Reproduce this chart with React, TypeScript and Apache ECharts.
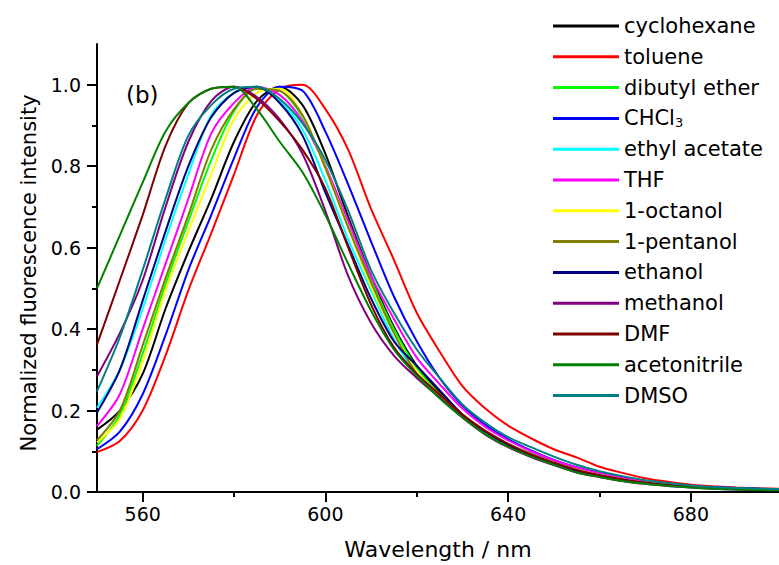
import React, { useEffect, useRef } from "react";
import * as echarts from "echarts";

const wavelengths = [
  550, 555, 560, 565, 570, 575, 580, 585, 590, 595, 600, 605, 610, 615, 620,
  625, 630, 635, 640, 645, 650, 655, 660, 665, 670, 675, 680, 685, 690, 695, 700,
];

const solventNames = [
  "cyclohexane", "toluene", "dibutyl ether", "CHCl3", "ethyl acetate", "THF",
  "1-octanol", "1-pentanol", "ethanol", "methanol", "DMF", "acetonitrile", "DMSO",
];

const solventColors = [
  "#000000", "#ff0000", "#00ff00", "#0000ff", "#00ffff", "#ff00ff",
  "#ffff00", "#808000", "#000080", "#800080", "#800000", "#008000", "#008080",
];

const cyclohexane = [0.153, 0.2, 0.29, 0.45, 0.59, 0.72, 0.86, 0.96, 0.995, 0.95, 0.83, 0.675, 0.53, 0.405, 0.31,
  0.245, 0.19, 0.15, 0.118, 0.094, 0.073, 0.056, 0.043, 0.032, 0.024, 0.018, 0.014, 0.011, 0.009, 0.007, 0.006];
const toluene = [0.098, 0.125, 0.2, 0.335, 0.495, 0.635, 0.78, 0.925, 0.99, 1.0, 0.94, 0.84, 0.695, 0.57, 0.44,
  0.345, 0.26, 0.205, 0.163, 0.132, 0.105, 0.085, 0.062, 0.047, 0.034, 0.025, 0.018, 0.014, 0.011, 0.009, 0.008];
const dibutylEther = [0.113, 0.19, 0.34, 0.51, 0.665, 0.815, 0.935, 0.99, 0.985, 0.92, 0.8, 0.65, 0.52, 0.4, 0.305,
  0.24, 0.188, 0.148, 0.117, 0.093, 0.072, 0.055, 0.042, 0.031, 0.023, 0.017, 0.013, 0.01, 0.008, 0.007, 0.006];
const chcl3 = [0.105, 0.148, 0.24, 0.385, 0.545, 0.68, 0.82, 0.945, 0.995, 0.985, 0.885, 0.755, 0.615, 0.48, 0.37,
  0.28, 0.212, 0.165, 0.13, 0.102, 0.079, 0.061, 0.047, 0.036, 0.027, 0.02, 0.015, 0.012, 0.01, 0.008, 0.007];
const ethylAcetate = [0.207, 0.3, 0.45, 0.62, 0.78, 0.925, 0.98, 0.995, 0.96, 0.89, 0.765, 0.62, 0.495, 0.375, 0.29,
  0.235, 0.185, 0.148, 0.117, 0.093, 0.072, 0.055, 0.042, 0.031, 0.023, 0.017, 0.013, 0.01, 0.008, 0.007, 0.006];
const thf = [0.162, 0.24, 0.4, 0.56, 0.72, 0.88, 0.955, 0.995, 0.975, 0.91, 0.8, 0.665, 0.53, 0.425, 0.33,
  0.265, 0.205, 0.16, 0.127, 0.1, 0.078, 0.06, 0.046, 0.035, 0.026, 0.02, 0.015, 0.011, 0.009, 0.007, 0.006];
const octanol = [0.122, 0.18, 0.32, 0.495, 0.64, 0.78, 0.915, 0.98, 0.99, 0.925, 0.795, 0.65, 0.505, 0.39, 0.295,
  0.24, 0.19, 0.15, 0.118, 0.093, 0.072, 0.055, 0.042, 0.031, 0.023, 0.017, 0.013, 0.01, 0.008, 0.007, 0.006];
const pentanol = [0.127, 0.2, 0.36, 0.525, 0.68, 0.84, 0.94, 0.99, 0.985, 0.925, 0.795, 0.65, 0.515, 0.39, 0.29,
  0.235, 0.185, 0.148, 0.117, 0.092, 0.071, 0.054, 0.041, 0.031, 0.023, 0.017, 0.013, 0.01, 0.008, 0.007, 0.006];
const ethanol = [0.195, 0.3, 0.47, 0.64, 0.8, 0.92, 0.98, 0.995, 0.955, 0.875, 0.735, 0.605, 0.475, 0.37, 0.31,
  0.25, 0.19, 0.148, 0.115, 0.09, 0.07, 0.052, 0.04, 0.03, 0.022, 0.016, 0.012, 0.009, 0.007, 0.006, 0.005];
const methanol = [0.284, 0.39, 0.52, 0.7, 0.86, 0.96, 0.995, 0.97, 0.915, 0.83, 0.69, 0.53, 0.415, 0.335, 0.28,
  0.232, 0.183, 0.141, 0.11, 0.086, 0.066, 0.048, 0.037, 0.027, 0.02, 0.015, 0.011, 0.008, 0.006, 0.005, 0.004];
const dmf = [0.362, 0.52, 0.68, 0.85, 0.955, 0.99, 0.995, 0.965, 0.91, 0.84, 0.745, 0.6, 0.46, 0.355, 0.29,
  0.24, 0.19, 0.15, 0.118, 0.092, 0.072, 0.054, 0.041, 0.031, 0.023, 0.017, 0.013, 0.01, 0.008, 0.006, 0.005];
const acetonitrile = [0.5, 0.63, 0.76, 0.885, 0.955, 0.99, 0.995, 0.94, 0.86, 0.785, 0.68, 0.56, 0.445, 0.35, 0.285,
  0.23, 0.183, 0.142, 0.111, 0.087, 0.067, 0.048, 0.037, 0.027, 0.02, 0.015, 0.011, 0.008, 0.006, 0.005, 0.004];
const dmso = [0.247, 0.38, 0.545, 0.72, 0.875, 0.95, 0.99, 0.995, 0.965, 0.905, 0.815, 0.69, 0.545, 0.44, 0.35,
  0.28, 0.215, 0.17, 0.135, 0.11, 0.087, 0.067, 0.051, 0.039, 0.029, 0.022, 0.016, 0.012, 0.01, 0.008, 0.007];

const seriesValues = [
  cyclohexane, toluene, dibutylEther, chcl3, ethylAcetate, thf,
  octanol, pentanol, ethanol, methanol, dmf, acetonitrile, dmso,
];

const xMajorTicks = [560, 600, 640, 680];
const xMinorTicks = [580, 620, 660];
const yMajorTicks = [0, 0.2, 0.4, 0.6, 0.8, 1.0];
const yMinorTicks = [0.1, 0.3, 0.5, 0.7, 0.9];

const FONT = "DejaVu Sans";

export default function App() {
  const ref = useRef<HTMLDivElement>(null);

  useEffect(() => {
    const chart = echarts.init(ref.current as HTMLDivElement, null, { renderer: "svg" });
    const axisLineStyle = { color: "#000", width: 2 };
    const labelStyle = { fontFamily: FONT, fontSize: 19, color: "#000" };

    chart.setOption({
      animation: false,
      backgroundColor: "#ffffff",
      grid: { left: 97, right: 0, top: 44, bottom: 72, containLabel: false },
      xAxis: [
        {
          type: "value",
          min: 550,
          max: 699.3,
          position: "bottom",
          name: "Wavelength / nm",
          nameLocation: "middle",
          nameGap: 46,
          nameTextStyle: { fontFamily: FONT, fontSize: 22, color: "#000" },
          axisLine: { show: true, lineStyle: axisLineStyle },
          axisTick: { show: true, customValues: xMajorTicks, length: 10, lineStyle: axisLineStyle },
          axisLabel: { show: true, customValues: xMajorTicks, margin: 12, ...labelStyle },
          splitLine: { show: false },
        },
        {
          type: "value",
          min: 550,
          max: 699.3,
          position: "bottom",
          axisLine: { show: false },
          axisTick: { show: true, customValues: xMinorTicks, length: 5, lineStyle: axisLineStyle },
          axisLabel: { show: false },
          splitLine: { show: false },
        },
      ],
      yAxis: [
        {
          type: "value",
          min: 0,
          max: 1.1,
          position: "left",
          name: "Normalized fluorescence intensity",
          nameLocation: "middle",
          nameGap: 58,
          nameTextStyle: { fontFamily: FONT, fontSize: 21, color: "#000", padding: [0, 10, 0, 0] },
          axisLine: { show: true, lineStyle: axisLineStyle },
          axisTick: { show: true, customValues: yMajorTicks, length: 10, lineStyle: axisLineStyle },
          axisLabel: {
            show: true,
            customValues: yMajorTicks,
            margin: 16,
            formatter: (v: number) => v.toFixed(1),
            ...labelStyle,
          },
          splitLine: { show: false },
        },
        {
          type: "value",
          min: 0,
          max: 1.1,
          position: "left",
          axisLine: { show: false },
          axisTick: { show: true, customValues: yMinorTicks, length: 5, lineStyle: axisLineStyle },
          axisLabel: { show: false },
          splitLine: { show: false },
        },
      ],
      legend: {
        data: solventNames,
        orient: "vertical",
        left: 548,
        top: 10,
        icon: "rect",
        itemWidth: 66,
        itemHeight: 3,
        itemGap: 8.8,
        formatter: (name: string) => (name === "CHCl3" ? "CHCl{sub|3}" : name),
        textStyle: {
          fontFamily: FONT,
          fontSize: 21,
          lineHeight: 22,
          color: "#000",
          rich: {
            sub: { fontFamily: FONT, fontSize: 13, lineHeight: 6, verticalAlign: "bottom", color: "#000" },
          },
        },
      },
      graphic: [
        {
          type: "text",
          left: 126,
          top: 83,
          style: { text: "(b)", font: `23px "${FONT}"`, fill: "#000" },
        },
      ],
      series: solventNames.map((name, i) => ({
        name,
        type: "line",
        xAxisIndex: 0,
        yAxisIndex: 0,
        data: wavelengths.map((w, j) => [w, seriesValues[i][j]]),
        showSymbol: false,
        symbol: "none",
        smooth: 0.3,
        lineStyle: { width: 2, color: solventColors[i] },
        itemStyle: { color: solventColors[i] },
      })),
    });

    return () => {
      chart.dispose();
    };
  }, []);

  return (
    <div
      ref={ref}
      style={{ position: "absolute", left: 0, top: 0, width: 779, height: 565 }}
    />
  );
}
